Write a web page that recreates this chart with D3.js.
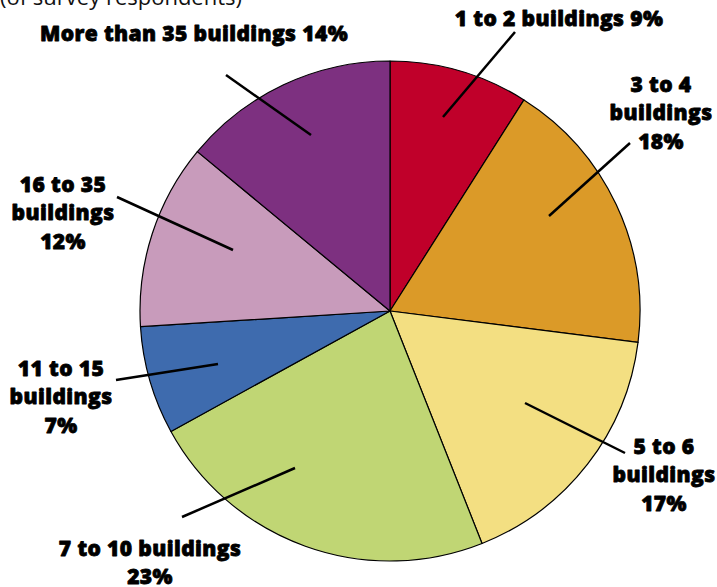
<!DOCTYPE html>
<html><head><meta charset="utf-8">
<script src="https://cdn.jsdelivr.net/npm/d3@7"></script>
<style>
html,body{margin:0;padding:0;background:#fff;}
svg{display:block;}
text{font-family:"Open Sans","DejaVu Sans",sans-serif;}
</style></head>
<body>
<svg id="c" width="717" height="587"></svg>
<script>
const categories = ["1 to 2 buildings","3 to 4 buildings","5 to 6 buildings","7 to 10 buildings","11 to 15 buildings","16 to 35 buildings","More than 35 buildings"];
const values = [9, 18, 17, 23, 7, 12, 14];
const colors = ["#C0002A","#DB9A28","#F3DF82","#C0D674","#3E6BAE","#C89BBB","#7D3080"];
// label lines as they break in the picture
const labelLines = [
  ["1 to 2 buildings 9%"],
  ["3 to 4","buildings","18%"],
  ["5 to 6","buildings","17%"],
  ["7 to 10 buildings","23%"],
  ["11 to 15","buildings","7%"],
  ["16 to 35","buildings","12%"],
  ["More than 35 buildings 14%"]
];
const labelPos = [[559,26],[661,92],[664,454],[150,556],[61,376],[63,192],[194,41]];
const leaderIn = [[443,117],[549,216],[525,403],[295,468],[218,364],[233,250],[311,135]];
const leaderOut = [[515,32],[630,143],[625,453],[182,517],[116,380],[117,197],[226,75]];

const svg = d3.select("#c");
const cx = 390, cy = 311, R = 250;

svg.append("text").attr("x",0).attr("y",4.5).attr("font-size",22).attr("fill","#111")
  .text("(of survey respondents)");

const pie = d3.pie().sort(null).value(d=>d)(values);
const arc = d3.arc().innerRadius(0).outerRadius(R);
const g = svg.append("g").attr("transform",`translate(${cx},${cy})`);
g.selectAll("path").data(pie).join("path")
  .attr("d",arc).attr("fill",(d,i)=>colors[i])
  .attr("stroke","#000").attr("stroke-width",1.2).attr("stroke-linejoin","round");

svg.selectAll("line.leader").data(values).join("line").attr("class","leader")
  .attr("x1",(d,i)=>leaderIn[i][0]).attr("y1",(d,i)=>leaderIn[i][1])
  .attr("x2",(d,i)=>leaderOut[i][0]).attr("y2",(d,i)=>leaderOut[i][1])
  .attr("stroke","#000").attr("stroke-width",2.5);

const lbl = svg.selectAll("text.lbl").data(labelLines).join("text").attr("class","lbl")
  .attr("text-anchor","middle").attr("font-size",21).attr("font-weight",800)
  .attr("letter-spacing",0.4).attr("fill","#000")
  .attr("stroke","#000").attr("stroke-width",0.8).attr("stroke-linejoin","round")
  .attr("x",(d,i)=>labelPos[i][0]).attr("y",(d,i)=>labelPos[i][1]);
lbl.each(function(lines,i){
  d3.select(this).selectAll("tspan").data(lines).join("tspan")
    .attr("x",labelPos[i][0]).attr("dy",(d,j)=>j===0?0:28.3).text(d=>d);
});
</script>
</body></html>
